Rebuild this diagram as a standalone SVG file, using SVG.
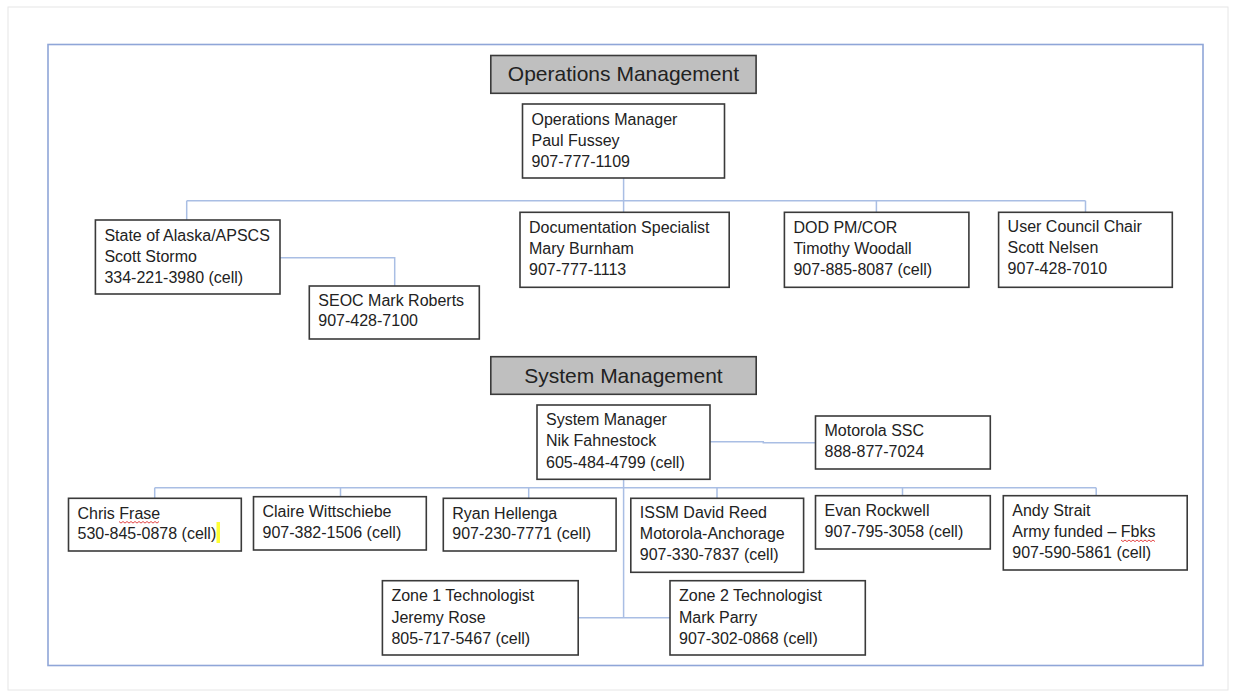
<svg xmlns="http://www.w3.org/2000/svg" width="1236" height="694" viewBox="0 0 1236 694">
<style>
.box{fill:#fff;stroke:#3a3a3a;stroke-width:1.6}
.hdr{fill:#bfbfbf;stroke:#3a3a3a;stroke-width:1.6}
.t{font-family:"Liberation Sans",Arial,sans-serif;font-size:16px;fill:#222}
.h{font-family:"Liberation Sans",Arial,sans-serif;font-size:21px;fill:#222;text-anchor:middle}
.c{fill:none;stroke:#a9bee4;stroke-width:1.5}
.sq{fill:none;stroke:#e03030;stroke-width:0.9}
</style>
<rect x="0" y="0" width="1236" height="694" fill="#fff"/>
<rect x="8" y="7" width="1220" height="683" fill="none" stroke="#e6e6e6" stroke-width="1"/>
<rect id="frame" x="48" y="44.5" width="1155" height="621" fill="none" stroke="#8fa6d8" stroke-width="1.6"/>

<g id="connectors">
<path class="c" d="M623.6,178 V212.3 M186.7,200.7 H1085.5 M186.7,200.7 V220 M876.4,200.7 V212.3 M1085.5,200.7 V212.3"/>
<path class="c" d="M280,257.7 H394.7 V286"/>
<path class="c" d="M623.6,479.3 V617.7 M154.7,487.7 H1096.2 M154.7,487.7 V498.3 M340.5,487.7 V496.7 M528.7,487.7 V498.3 M717,487.7 V498.3 M902.5,487.7 V495.7 M1096.2,487.7 V495.7"/>
<path class="c" d="M578.2,617.7 H670"/>
<path class="c" d="M709.9,441.7 H763.3 V442.7 H815.5"/>
</g>

<g id="ops-header">
<rect class="hdr" x="490.8" y="55.5" width="265.3" height="37.8"/>
<text class="h" x="623.4" y="81">Operations Management</text>
</g>

<g id="ops-manager">
<rect class="box" x="522.5" y="104" width="202" height="74"/>
<text class="t" x="531.5" y="124.5">Operations Manager</text>
<text class="t" x="531.5" y="145.5">Paul Fussey</text>
<text class="t" x="531.5" y="166.5">907-777-1109</text>
</g>

<g id="state-alaska">
<rect class="box" x="95.4" y="220" width="184.6" height="74"/>
<text class="t" x="104.4" y="240.5">State of Alaska/APSCS</text>
<text class="t" x="104.4" y="261.5">Scott Stormo</text>
<text class="t" x="104.4" y="282.5">334-221-3980 (cell)</text>
</g>

<g id="doc-specialist">
<rect class="box" x="520" y="212.3" width="209.2" height="75"/>
<text class="t" x="529" y="232.8">Documentation Specialist</text>
<text class="t" x="529" y="253.8">Mary Burnham</text>
<text class="t" x="529" y="274.8">907-777-1113</text>
</g>

<g id="dod">
<rect class="box" x="784.4" y="212.3" width="184.5" height="75"/>
<text class="t" x="793.4" y="232.8">DOD PM/COR</text>
<text class="t" x="793.4" y="253.8">Timothy Woodall</text>
<text class="t" x="793.4" y="274.8">907-885-8087 (cell)</text>
</g>

<g id="user-council">
<rect class="box" x="998.6" y="212.3" width="173.7" height="75"/>
<text class="t" x="1007.6" y="232.3">User Council Chair</text>
<text class="t" x="1007.6" y="253.3">Scott Nelsen</text>
<text class="t" x="1007.6" y="274.3">907-428-7010</text>
</g>

<g id="seoc">
<rect class="box" x="309.3" y="286" width="170" height="53"/>
<text class="t" x="318.3" y="306.2">SEOC Mark Roberts</text>
<text class="t" x="318.3" y="326.2">907-428-7100</text>
</g>

<g id="sys-header">
<rect class="hdr" x="490.8" y="356.7" width="265.4" height="37.6"/>
<text class="h" x="623.5" y="382.5">System Management</text>
</g>

<g id="sys-manager">
<rect class="box" x="537" y="405" width="173" height="74.3"/>
<text class="t" x="546" y="424.5">System Manager</text>
<text class="t" x="546" y="446">Nik Fahnestock</text>
<text class="t" x="546" y="467.5">605-484-4799 (cell)</text>
</g>

<g id="motorola-ssc">
<rect class="box" x="815.5" y="416" width="174.8" height="53"/>
<text class="t" x="824.5" y="436.2">Motorola SSC</text>
<text class="t" x="824.5" y="457.2">888-877-7024</text>
</g>

<g id="chris-frase">
<rect class="box" x="68.5" y="498.3" width="172.8" height="52.7"/>
<text class="t" x="77.5" y="518.8">Chris Frase</text>
<text class="t" x="77.5" y="538.8">530-845-0878 (cell)</text>
<path class="sq" d="M119,521.5 l2,1.6 l2,-1.6 l2,1.6 l2,-1.6 l2,1.6 l2,-1.6 l2,1.6 l2,-1.6 l2,1.6 l2,-1.6 l2,1.6 l2,-1.6 l2,1.6 l2,-1.6 l2,1.6 l2,-1.6 l2,1.6 l2,-1.6 l2,1.6 l2,-1.6"/>
<rect x="216.5" y="522" width="3.5" height="21" fill="#ffff33"/>
</g>

<g id="claire">
<rect class="box" x="253.5" y="496.7" width="172.8" height="53.3"/>
<text class="t" x="262.5" y="516.7">Claire Wittschiebe</text>
<text class="t" x="262.5" y="537.7">907-382-1506 (cell)</text>
</g>

<g id="ryan">
<rect class="box" x="443.3" y="498.3" width="172.8" height="52.7"/>
<text class="t" x="452.3" y="518.8">Ryan Hellenga</text>
<text class="t" x="452.3" y="538.8">907-230-7771 (cell)</text>
</g>

<g id="issm">
<rect class="box" x="630.8" y="498.3" width="172.8" height="74"/>
<text class="t" x="639.8" y="517.8">ISSM David Reed</text>
<text class="t" x="639.8" y="538.8">Motorola-Anchorage</text>
<text class="t" x="639.8" y="560.3">907-330-7837 (cell)</text>
</g>

<g id="evan">
<rect class="box" x="815.5" y="495.7" width="174.8" height="53.3"/>
<text class="t" x="824.5" y="516.2">Evan Rockwell</text>
<text class="t" x="824.5" y="536.7">907-795-3058 (cell)</text>
</g>

<g id="andy">
<rect class="box" x="1003.3" y="495.7" width="183.9" height="74.3"/>
<text class="t" x="1012.3" y="516.2">Andy Strait</text>
<text class="t" x="1012.3" y="536.7">Army funded – Fbks</text>
<text class="t" x="1012.3" y="557.8">907-590-5861 (cell)</text>
<path class="sq" d="M1121,540 l2,1.6 l2,-1.6 l2,1.6 l2,-1.6 l2,1.6 l2,-1.6 l2,1.6 l2,-1.6 l2,1.6 l2,-1.6 l2,1.6 l2,-1.6 l2,1.6 l2,-1.6 l2,1.6 l2,-1.6 l2,1.6"/>
</g>

<g id="zone1">
<rect class="box" x="382.4" y="580.7" width="195.8" height="74.3"/>
<text class="t" x="391.4" y="601.2">Zone 1 Technologist</text>
<text class="t" x="391.4" y="622.8">Jeremy Rose</text>
<text class="t" x="391.4" y="643.5">805-717-5467 (cell)</text>
</g>

<g id="zone2">
<rect class="box" x="670" y="580.7" width="195.3" height="74.3"/>
<text class="t" x="679" y="601.2">Zone 2 Technologist</text>
<text class="t" x="679" y="622.8">Mark Parry</text>
<text class="t" x="679" y="643.5">907-302-0868 (cell)</text>
</g>
</svg>
